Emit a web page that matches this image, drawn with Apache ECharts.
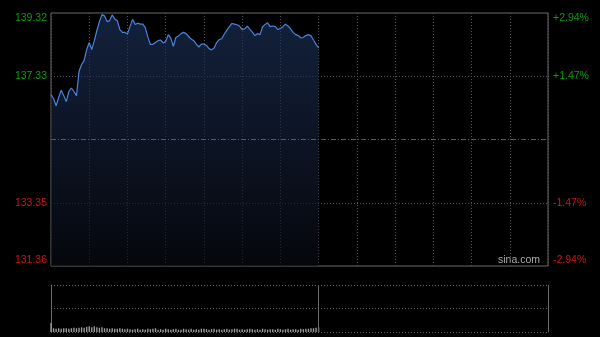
<!DOCTYPE html>
<html>
<head>
<meta charset="utf-8">
<script src="https://cdn.jsdelivr.net/npm/echarts@6/dist/echarts.min.js"></script>
<style>
html,body{margin:0;padding:0;background:#000;}
#c{width:600px;height:337px;}
</style>
</head>
<body>
<div id="c"></div>
<script>
// ---- data (sampled every 2 minutes from 09:30) ----
const stepMinutes = 2;
const prevClose = 135.34;
const priceTicks = [131.36, 133.35, 137.33, 139.32];
const prices = [
  136.75,136.63,136.40,136.66,136.89,136.72,136.53,136.85,136.96,136.85,
  136.72,137.48,137.70,137.82,138.17,138.39,138.17,138.45,138.77,139.05,
  139.27,139.23,139.05,139.08,139.26,139.13,139.08,138.80,138.71,138.71,
  138.66,138.90,139.12,138.96,139.00,138.97,138.97,138.86,138.56,138.33,
  138.33,138.39,138.45,138.47,138.38,138.42,138.64,138.53,138.27,138.55,
  138.60,138.67,138.71,138.67,138.58,138.50,138.45,138.34,138.25,138.34,
  138.34,138.30,138.20,138.16,138.22,138.39,138.48,138.51,138.66,138.78,
  138.89,138.99,138.97,138.95,138.91,138.80,138.82,138.91,138.81,138.72,
  138.61,138.67,138.64,138.88,138.96,139.01,138.89,138.91,138.89,138.80,
  138.83,138.89,138.97,138.91,138.82,138.71,138.64,138.61,138.54,138.55,
  138.61,138.64,138.60,138.47,138.33,138.22
];
const volumes = [
  19,8,7,8,7,8,8,7,8,9,8,9,
  10,9,11,12,10,12,10,9,10,
  8,8,7,8,7,7,8,7,6,7,
  6,5,6,7,5,6,5,7,6,7,8,5,6,5,7,6,5,6,7,5,
  5,7,6,5,7,5,6,5,7,7,6,5,6,7,5,6,5,6,7,5,
  6,7,7,5,6,5,6,7,6,5,6,5,7,6,5,6,6,5,7,6,
  5,6,7,5,6,6,5,7,6,7,7,8,8,9,10
];
const sessionMinutes = 390;
const watermark = 'sina.com';

const priceData = prices.map((p, i) => [i * stepMinutes, p]);
const volData = volumes.map((v, i) => [i * stepMinutes, v]);
const lastMinute = (prices.length - 1) * stepMinutes;

const FONT = "'Liberation Sans', Arial, sans-serif";
const GREEN = '#129a12';
const RED = '#cc1515';
const GRID_C = '#555555';
const VGRID_C = '#666666';
const BORDER_C = '#6a6a6a';

const chart = echarts.init(document.getElementById('c'), null, {renderer: 'canvas'});
chart.setOption({
  backgroundColor: '#000',
  animation: false,
  grid: [
    {left: 51, right: 52, top: 13, height: 253, show: true, borderColor: BORDER_C, borderWidth: 1, backgroundColor: 'transparent'},
    {left: 51, right: 52, top: 285, height: 47, show: false}
  ],
  xAxis: [
    {type: 'value', gridIndex: 0, min: 0, max: sessionMinutes, interval: 30,
     axisLine: {show: false}, axisTick: {show: false}, axisLabel: {show: false},
     splitLine: {show: true, lineStyle: {color: GRID_C, type: [1, 2], width: 1}}},
    {type: 'value', gridIndex: 1, min: 0, max: sessionMinutes, interval: 30,
     axisLine: {show: false}, axisTick: {show: false}, axisLabel: {show: false},
     splitLine: {show: false}}
  ],
  yAxis: [
    {type: 'value', gridIndex: 0, min: priceTicks[0], max: priceTicks[3], position: 'left',
     axisLine: {show: false},
     axisTick: {show: false, customValues: [priceTicks[1], priceTicks[2]]},
     splitLine: {show: true, lineStyle: {color: GRID_C, type: [1, 2], width: 1}},
     axisLabel: {customValues: priceTicks, margin: 4, fontSize: 10.5, fontFamily: FONT,
       verticalAlignMinLabel: 'bottom', verticalAlignMaxLabel: 'top',
       formatter: v => v.toFixed(2),
       color: v => (Number(v) > prevClose ? GREEN : RED)}},
    {type: 'value', gridIndex: 0, min: priceTicks[0], max: priceTicks[3], position: 'right',
     axisLine: {show: false},
     axisTick: {show: false, customValues: priceTicks},
     splitLine: {show: false},
     axisLabel: {customValues: priceTicks, margin: 5, fontSize: 10.5, fontFamily: FONT,
       verticalAlignMinLabel: 'bottom', verticalAlignMaxLabel: 'top',
       formatter: v => {
         const pct = (v - prevClose) / prevClose * 100;
         return (pct > 0 ? '+' : '') + pct.toFixed(2) + '%';
       },
       color: v => (Number(v) > prevClose ? GREEN : RED)}},
    {type: 'value', gridIndex: 1, min: 0, max: 100, interval: 50, position: 'left',
     axisLine: {show: true, lineStyle: {color: BORDER_C, width: 1}},
     axisTick: {show: false}, axisLabel: {show: false},
     splitLine: {show: true, lineStyle: {color: VGRID_C, type: [1, 2], width: 1}}},
    {type: 'value', gridIndex: 1, min: 0, max: 100, interval: 50, position: 'right',
     axisLine: {show: true, lineStyle: {color: BORDER_C, width: 1}},
     axisTick: {show: false}, axisLabel: {show: false}, splitLine: {show: false}}
  ],
  series: [
    {type: 'line', xAxisIndex: 0, yAxisIndex: 0, data: priceData, showSymbol: false,
     lineStyle: {color: '#4a82dc', width: 1.2},
     areaStyle: {origin: 'start', color: new echarts.graphic.LinearGradient(0, 0, 0, 1, [
       {offset: 0, color: 'rgba(30,52,94,0.9)'},
       {offset: 1, color: 'rgba(8,10,18,0.95)'}
     ])},
     markLine: {silent: true, symbol: 'none', label: {show: false},
       lineStyle: {color: '#5a5a5a', type: [5, 2, 1, 2], width: 1},
       data: [{yAxis: prevClose}]}},
    {type: 'bar', xAxisIndex: 1, yAxisIndex: 2, data: volData, barWidth: 1.4,
     itemStyle: {color: '#9a9a9a'},
     markLine: {silent: true, symbol: 'none', label: {show: false},
       lineStyle: {color: BORDER_C, type: 'solid', width: 1},
       data: [{xAxis: lastMinute}]}}
  ],
  graphic: [
    {type: 'text', left: 498, top: 255, silent: true,
     style: {text: watermark, fill: '#a8a8a8', font: '10.5px ' + FONT}}
  ]
});
</script>
</body>
</html>
